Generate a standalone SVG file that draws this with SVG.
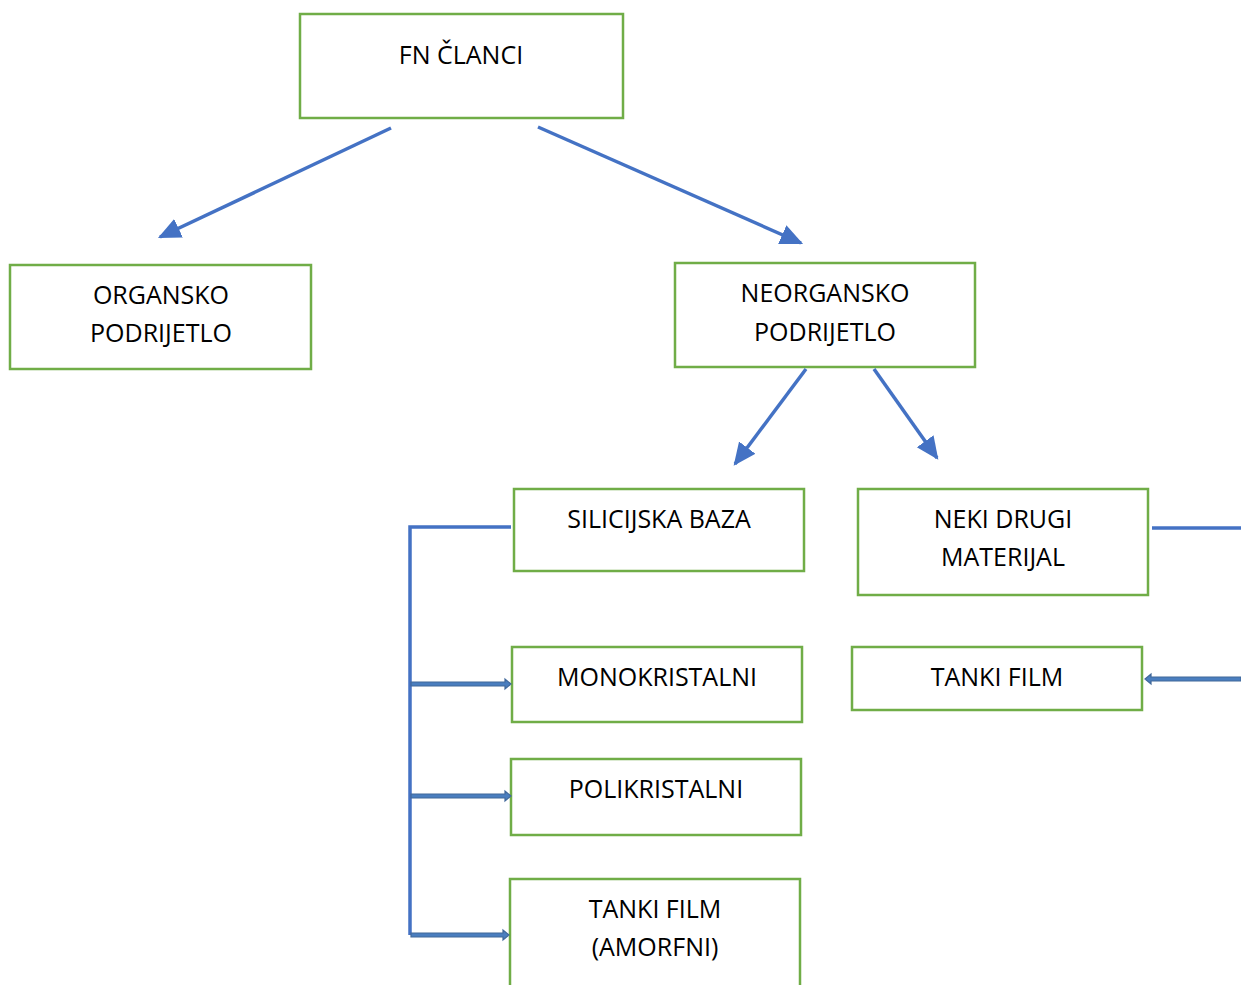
<svg xmlns="http://www.w3.org/2000/svg" width="1241" height="985" viewBox="0 0 1241 985">
<defs>
<style>
.box{fill:#fff;stroke:#70ad47;stroke-width:2.5}
.t{font-family:"Open Sans","Liberation Sans",sans-serif;font-size:25px;fill:#000;text-anchor:middle}
.ln{stroke:#4472c4;stroke-width:3.5;fill:none}
.blk{fill:#4a7ebf;stroke:#41689a;stroke-width:1.2}
</style>
<marker id="ah2" viewBox="0 0 10 10" refX="9" refY="5" markerWidth="6.5" markerHeight="6.5" orient="auto">
<path d="M0,0.5 L10,5 L0,9.5 Z" fill="#4472c4"/>
</marker>
</defs>
<rect width="1241" height="985" fill="#fff"/>
<g id="n-fn"><rect class="box" x="300" y="14" width="323" height="104"/><text class="t" x="461" y="64">FN ČLANCI</text></g>
<g id="n-org"><rect class="box" x="10" y="265" width="301" height="104"/><text class="t" x="161" y="304">ORGANSKO</text><text class="t" x="161" y="342">PODRIJETLO</text></g>
<g id="n-neorg"><rect class="box" x="675" y="263" width="300" height="104"/><text class="t" x="825" y="302">NEORGANSKO</text><text class="t" x="825" y="341">PODRIJETLO</text></g>
<g id="n-si"><rect class="box" x="514" y="489" width="290" height="82"/><text class="t" x="659" y="528">SILICIJSKA BAZA</text></g>
<g id="n-neki"><rect class="box" x="858" y="489" width="290" height="106"/><text class="t" x="1003" y="528">NEKI DRUGI</text><text class="t" x="1003" y="566">MATERIJAL</text></g>
<g id="n-mono"><rect class="box" x="512" y="647" width="290" height="75"/><text class="t" x="657" y="686">MONOKRISTALNI</text></g>
<g id="n-tf1"><rect class="box" x="852" y="647" width="290" height="63"/><text class="t" x="997" y="686">TANKI FILM</text></g>
<g id="n-poli"><rect class="box" x="511" y="759" width="290" height="76"/><text class="t" x="656" y="798">POLIKRISTALNI</text></g>
<g id="n-tf2"><rect class="box" x="510" y="879" width="290" height="110"/><text class="t" x="655" y="918">TANKI FILM</text><text class="t" x="655" y="956">(AMORFNI)</text></g>
<g id="connectors">
<line class="ln" x1="391" y1="128" x2="160" y2="237" marker-end="url(#ah2)"/>
<line class="ln" x1="538" y1="127" x2="801" y2="243" marker-end="url(#ah2)"/>
<line class="ln" x1="806" y1="369" x2="735" y2="464" marker-end="url(#ah2)"/>
<line class="ln" x1="874" y1="369" x2="937" y2="458" marker-end="url(#ah2)"/>
<polyline class="ln" points="511,527 410,527 410,935"/>
<line class="ln" x1="1152" y1="528" x2="1241" y2="528"/>
<path class="blk" d="M411,682 L505,682 L505,679 L511,684 L505,689 L505,686 L411,686 Z"/>
<path class="blk" d="M411,794 L505,794 L505,791 L511,796 L505,801 L505,798 L411,798 Z"/>
<path class="blk" d="M411,933 L503,933 L503,930 L509,935 L503,940 L503,937 L411,937 Z"/>
<path class="blk" d="M1241,677 L1151,677 L1151,674 L1145,679 L1151,684 L1151,681 L1241,681 Z"/>
</g>
</svg>
